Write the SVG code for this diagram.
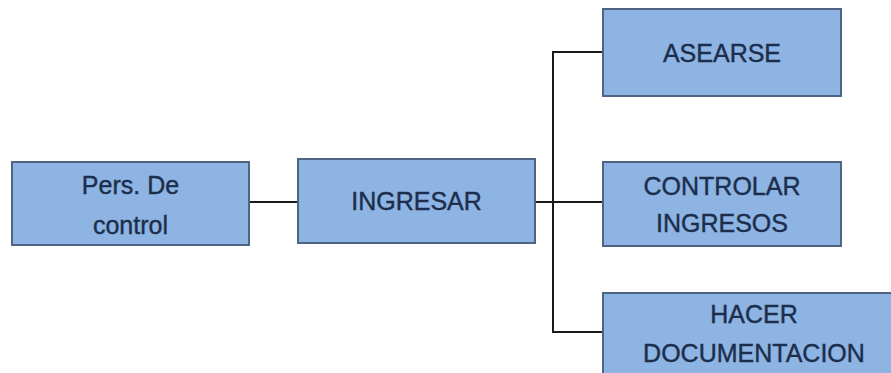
<svg xmlns="http://www.w3.org/2000/svg" width="891" height="373" viewBox="0 0 891 373">
  <style>
    .box { fill: #8db4e2; stroke: #4f6482; stroke-width: 2; }
    .lbl { font-family: "Liberation Sans", Arial, sans-serif; font-size: 25px; fill: #1c2e4c; stroke: #1c2e4c; stroke-width: 0.4; text-anchor: middle; }
    .wire { fill: none; stroke: #1a1a1a; stroke-width: 2; }
  </style>
  <rect width="891" height="373" fill="#ffffff"/>

  <g id="connectors">
    <line class="wire" x1="249" y1="202" x2="298" y2="202"/>
    <line class="wire" x1="535" y1="202" x2="603" y2="202"/>
    <polyline class="wire" points="603,52 553,52 553,332 603,332"/>
  </g>

  <g id="node-pers">
    <rect class="box" x="12" y="162" width="237" height="83"/>
    <text class="lbl" x="130.5" y="194">Pers. De</text>
    <text class="lbl" x="130.5" y="234">control</text>
  </g>

  <g id="node-ingresar">
    <rect class="box" x="298" y="159" width="237" height="84"/>
    <text class="lbl" x="416.5" y="210">INGRESAR</text>
  </g>

  <g id="node-asearse">
    <rect class="box" x="603" y="9" width="238" height="87"/>
    <text class="lbl" x="722" y="62">ASEARSE</text>
  </g>

  <g id="node-controlar">
    <rect class="box" x="603" y="162" width="238" height="84"/>
    <text class="lbl" x="722" y="195">CONTROLAR</text>
    <text class="lbl" x="722" y="232">INGRESOS</text>
  </g>

  <g id="node-hacer">
    <rect class="box" x="603" y="293" width="300" height="90"/>
    <text class="lbl" x="754" y="323">HACER</text>
    <text class="lbl" x="754" y="362">DOCUMENTACION</text>
  </g>
</svg>
